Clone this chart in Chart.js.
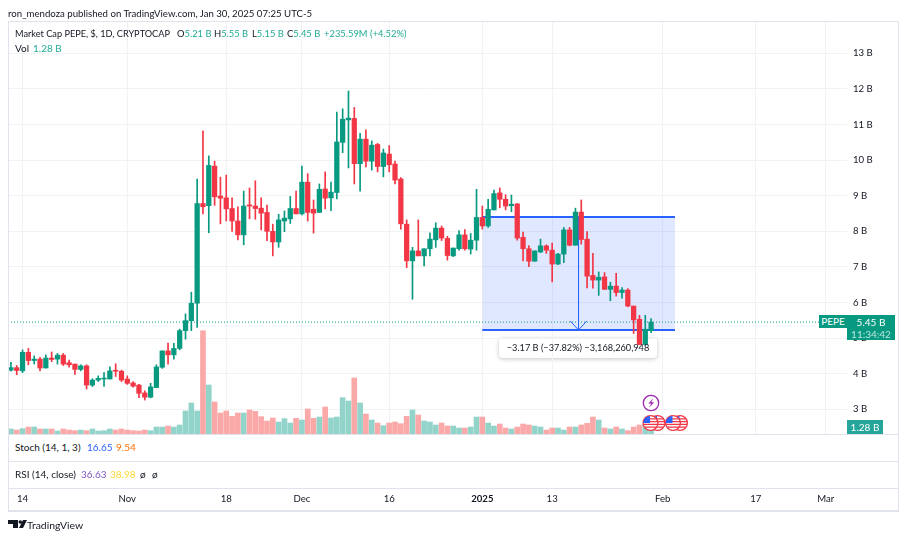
<!DOCTYPE html>
<html>
<head>
<meta charset="utf-8">
<title>Market Cap PEPE</title>
<script src="https://cdn.jsdelivr.net/npm/chart.js@4/dist/chart.umd.js"></script>
<style>
html, body { margin: 0; padding: 0; background: #fff; }
body { position: relative; width: 908px; height: 538px; overflow: hidden; font-family: Lato, sans-serif; font-size: 10px; color: #131722; }
canvas { position: absolute; left: 0; top: 0; z-index: 1; }
.t { position: absolute; white-space: nowrap; line-height: 12px; z-index: 3; }
.small { font-size: 9.4px; }
.up { color: #22ab94; }
.rule { position: absolute; background: #e0e3eb; z-index: 2; }
.tag { position: absolute; background: #089981; color: #fff; z-index: 3; text-align: center; }
#panes { position: absolute; left: 9px; top: 435px; width: 889px; height: 53px; background: #fff; z-index: 2; }
#measureBox { position: absolute; left: 499px; top: 338px; width: 158px; height: 20px; background: #fff; border-radius: 4px; box-shadow: 0 1px 4px rgba(19,23,34,.25); z-index: 0; }
#measureText { position: absolute; left: 499px; top: 338px; width: 158px; line-height: 20px; font-size: 9.2px; text-align: center; z-index: 3; }
svg { position: absolute; z-index: 3; }
</style>
</head>
<body>
<div class="t" style="left:8px;top:7px;font-size:9.65px">ron_mendoza published on TradingView.com, Jan 30, 2025 07:25 UTC-5</div>

<div id="panes"></div>
<div class="rule" style="left:8px;top:21px;width:890px;height:1px"></div>
<div class="rule" style="left:8px;top:21px;width:1px;height:489px"></div>
<div class="rule" style="left:898px;top:21px;width:1px;height:490px"></div>
<div class="rule" style="left:8px;top:434px;width:890px;height:1px"></div>
<div class="rule" style="left:8px;top:461px;width:890px;height:1px"></div>
<div class="rule" style="left:8px;top:488px;width:890px;height:1px"></div>
<div class="rule" style="left:8px;top:510px;width:891px;height:2px"></div>

<div class="t small" style="left:15px;top:28px;font-size:9.2px">Market Cap PEPE, $, 1D, CRYPTOCAP</div>
<div class="t small" style="left:177px;top:28px">O<span class="up">5.21 B</span></div>
<div class="t small" style="left:214px;top:28px">H<span class="up">5.55 B</span></div>
<div class="t small" style="left:252px;top:28px">L<span class="up">5.15 B</span></div>
<div class="t small" style="left:287px;top:28px">C<span class="up">5.45 B</span></div>
<div class="t small up" style="left:324px;top:28px">+235.59M (+4.52%)</div>
<div class="t" style="left:15px;top:42px">Vol</div>
<div class="t up" style="left:33px;top:42px">1.28 B</div>

<div class="t" style="left:15px;top:441px">Stoch (14, 1, 3)</div>
<div class="t" style="left:87px;top:441px;color:#2962ff">16.65</div>
<div class="t" style="left:116px;top:441px;color:#ff6d00">9.54</div>
<div class="t" style="left:15px;top:468px">RSI (14, close)</div>
<div class="t" style="left:81px;top:468px;color:#7e57c2">36.63</div>
<div class="t" style="left:110px;top:468px;color:#fdd835">38.98</div>
<div class="t" style="left:140px;top:468px">ø</div>
<div class="t" style="left:152px;top:468px">ø</div>

<div class="tag" style="left:819px;top:315px;width:28px;height:13px;line-height:13px">PEPE</div>
<div class="tag" style="left:847px;top:315px;width:48px;height:25px;line-height:12px;padding-top:1px;box-sizing:border-box;font-size:10px">5.45 B<br><span style="color:#bfe6de">11:34:42</span></div>
<div class="tag" style="left:847px;top:420px;width:36px;height:14px;line-height:14px;background:#26a69a">1.28 B</div>

<!-- Box sits under the canvas so the candles cross it, the text stays on top -->
<div id="measureBox"></div>
<div id="measureText">−3.17 B (−37.82%) −3,168,260,948</div>

<svg style="left:0;top:0" width="908" height="538">
  <defs>
    <g id="flag">
      <circle r="7.4" fill="#fff" stroke="#f23645" stroke-width="1.3"/>
      <path d="M-6 -4.2H6M-7 -1.4H7M-7 1.4H7M-6 4.2H6" stroke="#f23645" stroke-width="1.3"/>
      <path d="M-6.4 -3.6A7.4 7.4 0 0 1 -0.5 -7V0H-7.2Z" fill="#2962ff"/>
    </g>
  </defs>
  <circle cx="651" cy="403" r="7.7" fill="#fff" stroke="#9c27b0" stroke-width="1.3"/>
  <path d="M653.4 398.2L648.2 403.6H651.2L649 407.8L654.2 402.2H651.2Z" fill="#9c27b0"/>
  <use href="#flag" x="657.5" y="423"/>
  <use href="#flag" x="650.5" y="423"/>
  <use href="#flag" x="680" y="423"/>
  <use href="#flag" x="673" y="423"/>
  <path d="M8 520H18V528H13V524H8Z M19 528L23 520H27L23 528Z" fill="#131722"/>
  <circle cx="20.3" cy="522" r="1.8" fill="#131722"/>
</svg>
<div class="t" style="left:27px;top:519px;font-size:10.4px">TradingView</div>

<canvas id="chart" width="908" height="538"></canvas>

<script>
// Day of the first candle, counted from Jan 1 2025
let firstDay = -81

/* Daily candles, values in billions */
let opens = [
    4.10, 4.17, 4.08, 4.60, 4.37, 4.41, 4.16, 4.44, 4.41, 4.52,
    4.31, 4.27, 4.12, 4.22, 3.68, 3.82, 3.85, 3.85, 4.08, 4.07,
    3.85, 3.74, 3.68, 3.46, 3.34, 3.61, 4.18, 4.64, 4.53, 4.71,
    5.21, 5.49, 5.98, 8.78, 8.72, 9.83, 8.99, 8.94, 8.64, 8.29,
    7.90, 8.74, 8.71, 8.65, 8.53, 8.00, 7.70, 8.29, 8.35, 8.64,
    8.49, 9.38, 8.62, 8.53, 9.19, 8.94, 9.09, 10.50, 11.13, 11.17,
    9.90, 10.59, 9.97, 10.44, 9.82, 10.17, 9.89, 9.47, 8.20, 7.17,
    7.45, 7.31, 7.51, 7.76, 8.09, 7.80, 7.31, 7.51, 7.90, 7.50,
    7.75, 8.39, 8.15, 8.60, 9.08, 8.90, 8.72, 8.77, 7.83, 7.51,
    7.16, 7.42, 7.59, 7.47, 7.08, 7.36, 8.04, 7.61, 8.54, 7.78,
    6.76, 6.63, 6.72, 6.37, 6.46, 6.28, 6.35, 5.90, 5.53, 4.82,
    5.21
]
let highs = [
    4.32, 4.23, 4.67, 4.71, 4.50, 4.46, 4.53, 4.61, 4.57, 4.57,
    4.38, 4.27, 4.25, 4.25, 3.86, 3.94, 4.03, 4.19, 4.28, 4.10,
    3.94, 3.78, 3.70, 3.52, 3.73, 4.25, 4.64, 4.86, 4.85, 5.25,
    5.68, 6.29, 9.47, 10.82, 10.12, 9.97, 9.52, 9.58, 8.94, 8.69,
    9.13, 9.22, 9.42, 8.94, 8.74, 8.20, 8.48, 8.57, 8.98, 9.13,
    9.83, 9.62, 8.88, 9.33, 9.67, 9.38, 11.35, 11.44, 11.94, 11.48,
    10.75, 10.85, 10.54, 10.47, 10.31, 10.41, 9.97, 9.51, 8.32, 7.55,
    8.32, 7.51, 7.96, 8.24, 8.15, 7.86, 7.53, 8.02, 8.05, 7.94,
    9.18, 8.71, 8.90, 9.16, 9.22, 9.03, 9.02, 8.78, 7.98, 7.60,
    7.45, 7.78, 7.62, 7.67, 7.38, 8.11, 8.11, 8.65, 8.88, 7.99,
    7.38, 6.86, 6.84, 6.57, 6.82, 6.42, 6.39, 5.90, 5.64, 5.64,
    5.55
]
let lows = [
    4.07, 3.97, 4.03, 4.25, 4.27, 4.08, 4.16, 4.34, 4.27, 4.23,
    4.18, 3.98, 4.08, 3.57, 3.64, 3.78, 3.64, 3.85, 3.92, 3.78,
    3.70, 3.62, 3.33, 3.26, 3.32, 3.61, 4.15, 4.27, 4.41, 4.67,
    4.97, 5.21, 5.30, 8.49, 7.96, 8.73, 8.21, 8.29, 8.00, 7.76,
    7.62, 8.35, 8.34, 8.04, 7.74, 7.31, 7.55, 7.99, 8.22, 8.49,
    8.46, 8.29, 7.95, 8.53, 8.63, 8.58, 8.91, 10.21, 9.78, 9.33,
    9.13, 9.81, 9.72, 9.67, 9.53, 9.67, 9.33, 8.06, 6.98, 6.09,
    7.31, 7.03, 7.31, 7.55, 7.74, 7.19, 7.29, 7.47, 7.47, 7.36,
    7.47, 8.06, 8.11, 8.60, 8.66, 8.60, 8.55, 7.75, 7.17, 7.01,
    7.16, 7.40, 7.38, 6.58, 7.06, 7.12, 7.59, 7.61, 7.64, 6.41,
    6.40, 6.20, 6.37, 6.05, 6.18, 6.12, 5.88, 5.13, 4.82, 4.80,
    5.15
]
let closes = [
    4.17, 4.09, 4.60, 4.37, 4.41, 4.16, 4.44, 4.40, 4.52, 4.27,
    4.25, 4.12, 4.22, 3.68, 3.82, 3.87, 3.87, 4.08, 4.07, 3.82,
    3.73, 3.65, 3.45, 3.34, 3.63, 4.19, 4.64, 4.53, 4.71, 5.21,
    5.49, 5.98, 8.78, 8.69, 9.85, 8.97, 8.93, 8.63, 8.29, 7.90,
    8.71, 8.71, 8.64, 8.51, 8.00, 7.70, 8.32, 8.37, 8.64, 8.49,
    9.38, 8.53, 8.51, 9.18, 8.93, 9.10, 10.51, 11.15, 11.18, 9.90,
    10.59, 9.97, 10.42, 9.82, 10.20, 9.87, 9.44, 8.21, 7.17, 7.45,
    7.31, 7.51, 7.78, 8.09, 7.81, 7.32, 7.53, 7.90, 7.51, 7.75,
    8.39, 8.15, 8.62, 9.06, 8.90, 8.71, 8.76, 7.81, 7.51, 7.16,
    7.45, 7.59, 7.47, 7.08, 7.36, 8.04, 7.61, 8.54, 7.77, 6.74,
    6.63, 6.71, 6.37, 6.46, 6.28, 6.35, 5.90, 5.51, 4.82, 5.25,
    5.45
]
let volumes = [
    0.92, 0.73, 0.98, 1.28, 1.28, 0.92, 0.92, 0.92, 0.55, 0.92,
    0.73, 0.61, 0.73, 0.61, 0.92, 0.55, 0.61, 0.92, 0.73, 0.92,
    0.73, 0.61, 0.55, 0.73, 0.61, 1.28, 1.28, 1.46, 1.28, 1.65,
    4.21, 5.67, 4.21, 18.9, 8.97, 5.86, 3.84, 4.21, 3.23, 3.84,
    3.84, 4.39, 4.15, 3.17, 2.38, 2.93, 2.20, 2.81, 2.01, 2.87,
    2.56, 4.58, 2.87, 3.11, 4.94, 2.93, 3.11, 6.65, 6.04, 10.25,
    5.67, 3.66, 2.56, 2.01, 1.53, 2.01, 2.20, 1.89, 3.23, 4.39,
    3.48, 2.38, 2.20, 1.65, 2.01, 1.46, 1.46, 1.10, 1.10, 1.28,
    3.11, 3.11, 2.01, 1.46, 1.83, 1.10, 0.92, 1.28, 1.83, 1.65,
    1.46, 1.28, 0.73, 1.10, 1.10, 0.73, 1.28, 1.28, 1.65, 1.95,
    3.11, 2.56, 1.10, 0.92, 1.28, 0.92, 0.61, 1.28, 1.65, 1.83,
    1.28
]

/* Axis ticks */
let priceTicks = [3, 4, 5, 6, 7, 8, 9, 10, 11, 12, 13]
let dayTicks = [-79, -61, -44, -31, -16, 0, 12, 31, 47, 59]
let dayTickLabels = ['14', 'Nov', '18', 'Dec', '16', '2025', '13', 'Feb', '17', 'Mar']

/* Price range tool drawn on the chart */
let rangeDays = [0, 33.1]
let rangeTop = [8.40, 8.40]
let rangeBottom = [5.23, 5.23]
let arrowDays = [16.53, 16.53]
let arrowPrices = [8.40, 5.23]
let arrowHeadDays = [15.10, 16.53, 17.96]
let arrowHeadPrices = [5.48, 5.23, 5.48]

let lastPrice = 5.45

let green = '#089981'
let red = '#f23645'

function toPoints(xs, ys) {
    return xs.map((x, i) => ({ x: x, y: ys[i] }))
}

let dayOf = i => firstDay + i
let isUp = i => closes[i] >= opens[i]
let candleColors = opens.map((o, i) => isUp(i) ? green : red)
let volumeColors = opens.map((o, i) => isUp(i) ? '#92d3ca' : '#fba8a8')

// Plot window, extended so the empty days on the right are kept
let dayMin = -81.5
let dayMax = 62.66

Chart.defaults.font.family = 'Lato, sans-serif'
Chart.defaults.font.size = 9.6
Chart.defaults.color = '#131722'

function lineSet(data, color, width, order) {
    return { type: 'line', data: data, borderColor: color, borderWidth: width, pointRadius: 0, tension: 0, fill: false, order: order }
}

let rangeTopSet = lineSet(toPoints(rangeDays, rangeTop), '#2962ff', 2, 6)
rangeTopSet.fill = '+1'
rangeTopSet.backgroundColor = 'rgba(41, 98, 255, 0.15)'

let lastPriceSet = lineSet(toPoints([dayMin, dayMax], [lastPrice, lastPrice]), green, 1, 3)
lastPriceSet.borderDash = [1, 2]

let chart = new Chart(document.querySelector('#chart'), {
    data: {
        datasets: [
            {
                type: 'bar',
                yAxisID: 'yVolume',
                data: volumes.map((v, i) => ({ x: dayOf(i), y: v })),
                backgroundColor: volumeColors,
                barThickness: 5,
                grouped: false,
                order: 7
            },
            rangeTopSet,
            lineSet(toPoints(rangeDays, rangeBottom), '#2962ff', 2, 5),
            lineSet(toPoints(arrowDays, arrowPrices), '#2962ff', 1, 4),
            lineSet(toPoints(arrowHeadDays, arrowHeadPrices), '#2962ff', 1, 4),
            lastPriceSet,
            {
                // Wicks
                type: 'bar',
                yAxisID: 'y',
                data: opens.map((o, i) => ({ x: dayOf(i), y: [lows[i], highs[i]] })),
                backgroundColor: candleColors,
                barThickness: 1,
                grouped: false,
                order: 2
            },
            {
                // Bodies
                type: 'bar',
                yAxisID: 'y',
                data: opens.map((o, i) => ({ x: dayOf(i), y: [o, closes[i]] })),
                backgroundColor: candleColors,
                barThickness: 4.6,
                minBarLength: 1,
                grouped: false,
                order: 1
            }
        ]
    },
    options: {
        responsive: false,
        animation: false,
        devicePixelRatio: 1,
        layout: { padding: { left: 8, top: 22, right: 0, bottom: 0 } },
        plugins: { legend: { display: false }, tooltip: { enabled: false } },
        scales: {
            x: {
                type: 'linear',
                offset: false,
                min: dayMin,
                max: dayMax,
                afterBuildTicks: scale => { scale.ticks = dayTicks.map(d => ({ value: d })) },
                afterFit: scale => { scale.height = 50 },
                grid: { color: '#f1f2f4', drawTicks: false, offset: false },
                border: { display: false },
                ticks: {
                    padding: 5,
                    autoSkip: false,
                    maxRotation: 0,
                    includeBounds: false,
                    callback: value => dayTickLabels[dayTicks.indexOf(value)],
                    font: ctx => ctx.tick && ctx.tick.value === 0 ? { weight: 'bold' } : {}
                }
            },
            // The plot runs on under the Stoch and RSI panes, which cover it
            y: {
                position: 'right',
                min: 0.789,
                max: 13.88,
                afterBuildTicks: scale => { scale.ticks = priceTicks.map(p => ({ value: p })) },
                afterFit: scale => { scale.width = 61 },
                grid: { color: '#f1f2f4', drawTicks: false },
                border: { display: false },
                ticks: { padding: 6, callback: value => value + ' B' }
            },
            yVolume: { display: false, min: -9.88, max: 75.4 }
        }
    }
})
</script>
</body>
</html>
